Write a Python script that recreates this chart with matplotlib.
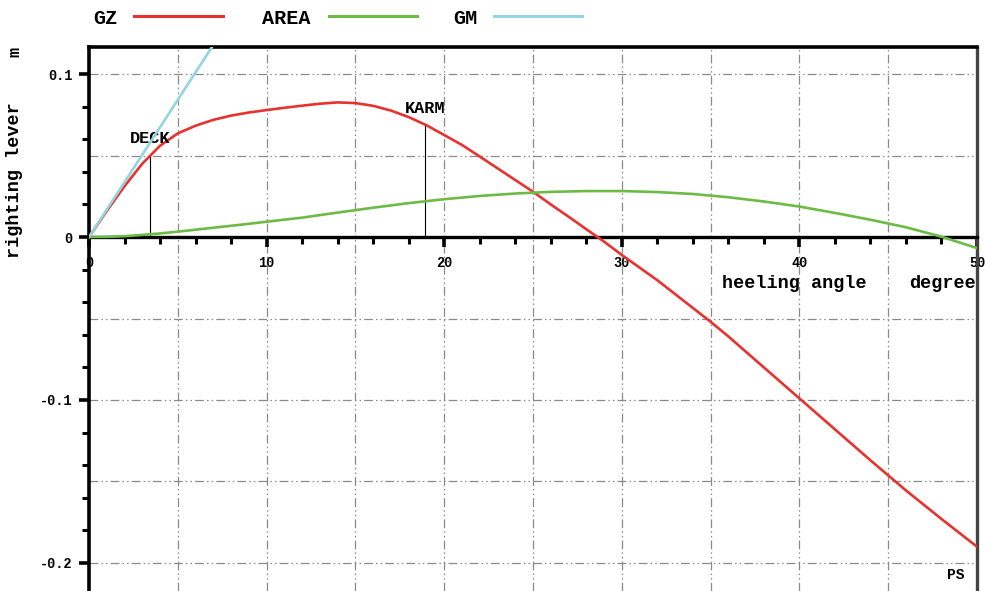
import numpy as np
import matplotlib
matplotlib.use("Agg")
import matplotlib.pyplot as plt

# righting lever curves
gz_angle = [0, 1, 2, 3, 4, 5, 6, 7, 8, 9, 10, 11, 12, 13, 14, 15, 16, 17, 18, 19, 20,
            21, 22, 23, 24, 25, 26, 27, 28, 29, 30, 32, 34, 35, 36, 38, 40, 42, 44, 46, 48, 50]
gz_value = [0, 0.0160, 0.0312, 0.0450, 0.0560, 0.0636, 0.0683, 0.0719, 0.0745, 0.0764, 0.0779,
            0.0793, 0.0806, 0.0818, 0.0826, 0.0822, 0.0805, 0.0776, 0.0736, 0.0686, 0.0626,
            0.0565, 0.0494, 0.0422, 0.0350, 0.0278, 0.0200, 0.0125, 0.0048, -0.0028, -0.0110,
            -0.0265, -0.0435, -0.0520, -0.0610, -0.0800, -0.0990, -0.1180, -0.1370, -0.1555,
            -0.1730, -0.1900]

area_angle = [0, 1, 2, 3, 4, 5, 6, 7, 8, 9, 10, 12, 14, 16, 18, 20, 22, 24, 26, 28, 30,
              32, 34, 36, 38, 40, 42, 44, 46, 48, 50]
area_value = [0, 0.0001, 0.0005, 0.0013, 0.0022, 0.0033, 0.0045, 0.0057, 0.0069, 0.0081, 0.0094,
              0.0119, 0.0150, 0.0180, 0.0208, 0.0232, 0.0252, 0.0267, 0.0277, 0.0282, 0.0282,
              0.0276, 0.0264, 0.0244, 0.0218, 0.0187, 0.0148, 0.0106, 0.0060, 0.0002, -0.0068]

GM = 0.965  # metacentric height, drawn as line to 57.3 deg (1 rad)

marks = ["DECK", "KARM"]
mark_angle = [3.43, 18.92]
mark_gz = [0.0503, 0.0687]

x_ticks = [0, 10, 20, 30, 40, 50]
y_ticks = [-0.2, -0.1, 0, 0.1]
y_tick_labels = ["-0.2", "-0.1", "0", "0.1"]

red = "#e8322e"
green = "#6dbb45"
blue = "#93d5e0"
mono = "Liberation Mono"

fig = plt.figure(figsize=(9.85, 5.91), dpi=100)
ax = fig.add_axes([89/985, 0, 888/985, 544/591])
ax.set_xlim(0, 50)
ax.set_ylim(-0.2172, 0.1166)

# grid, dash-dot-dot
grid_ls = (0, (7, 2.5, 1.2, 2.5, 1.2, 2.5))
for gx in np.arange(5, 50, 5):
    ax.axvline(gx, color="#8a8a8a", lw=0.9, ls=grid_ls, zorder=1)
for gy in np.arange(-0.2, 0.11, 0.05):
    if abs(gy) > 1e-9:
        ax.axhline(gy, color="#8a8a8a", lw=0.9, ls=grid_ls, zorder=1)

ax.plot(gz_angle, gz_value, color=red, lw=1.9, zorder=3)
ax.plot(area_angle, area_value, color=green, lw=1.9, zorder=4)
ax.plot([0, 57.3], [0, GM], color=blue, lw=1.9, zorder=4)

for name, a, g in zip(marks, mark_angle, mark_gz):
    ax.plot([a, a], [0, g], color="black", lw=0.8, zorder=2)
    ax.annotate(name, (a, g), xytext=(0, 12), textcoords="offset points",
                ha="center", va="center", fontsize=12.2, fontweight="bold", family=mono)

# spines
ax.spines["bottom"].set_position(("data", 0))
ax.spines["bottom"].set_linewidth(2.4)
ax.spines["left"].set_linewidth(2.6)
ax.spines["top"].set_linewidth(2.6)
ax.spines["right"].set_linewidth(2.4)
ax.spines["right"].set_color("#444444")
ax.spines["right"].set_linestyle((0, (3, 1)))

ax.set_xticks(x_ticks)
ax.set_xticks(np.arange(0, 51, 2), minor=True)
ax.set_yticks(y_ticks)
ax.set_yticklabels(y_tick_labels)
ax.set_yticks(np.arange(-0.2, 0.11, 0.02), minor=True)
ax.tick_params(axis="both", which="major", length=7, width=2.6, labelsize=9.8, pad=5)
ax.tick_params(axis="both", which="minor", length=5, width=2.2)
ax.tick_params(axis="x", which="major", pad=7)
for lab in ax.get_xticklabels() + ax.get_yticklabels():
    lab.set_family(mono)
    lab.set_fontweight("semibold")

ax.text(43.8, -0.0285, "heeling angle", ha="right", va="center", fontsize=13.3,
        fontweight="bold", family=mono)
ax.text(49.95, -0.0285, "degree", ha="right", va="center", fontsize=13.3,
        fontweight="bold", family=mono)
ax.text(49.3, -0.2075, "PS", ha="right", va="center", fontsize=10.5,
        fontweight="bold", family=mono)

fig.text(15/985, 1 - 180/591, "righting lever", rotation=90, ha="center", va="center",
         fontsize=13.3, fontweight="bold", family=mono)
fig.text(15/985, 1 - 52/591, "m", rotation=90, ha="center", va="center",
         fontsize=12, fontweight="bold", family=mono)

# legend row on top
legend_items = [("GZ", red, 93, 134, 223), ("AREA", green, 262, 329, 417), ("GM", blue, 453, 494, 582)]
for name, col, tx, x0, x1 in legend_items:
    fig.text(tx/985, 1 - 18/591, name, ha="left", va="center", fontsize=14.5,
             fontweight="bold", family=mono)
    fig.add_artist(plt.Line2D([x0/985, x1/985], [1 - 16/591, 1 - 16/591], color=col, lw=2.2))

fig.savefig("out.png", dpi=100)
